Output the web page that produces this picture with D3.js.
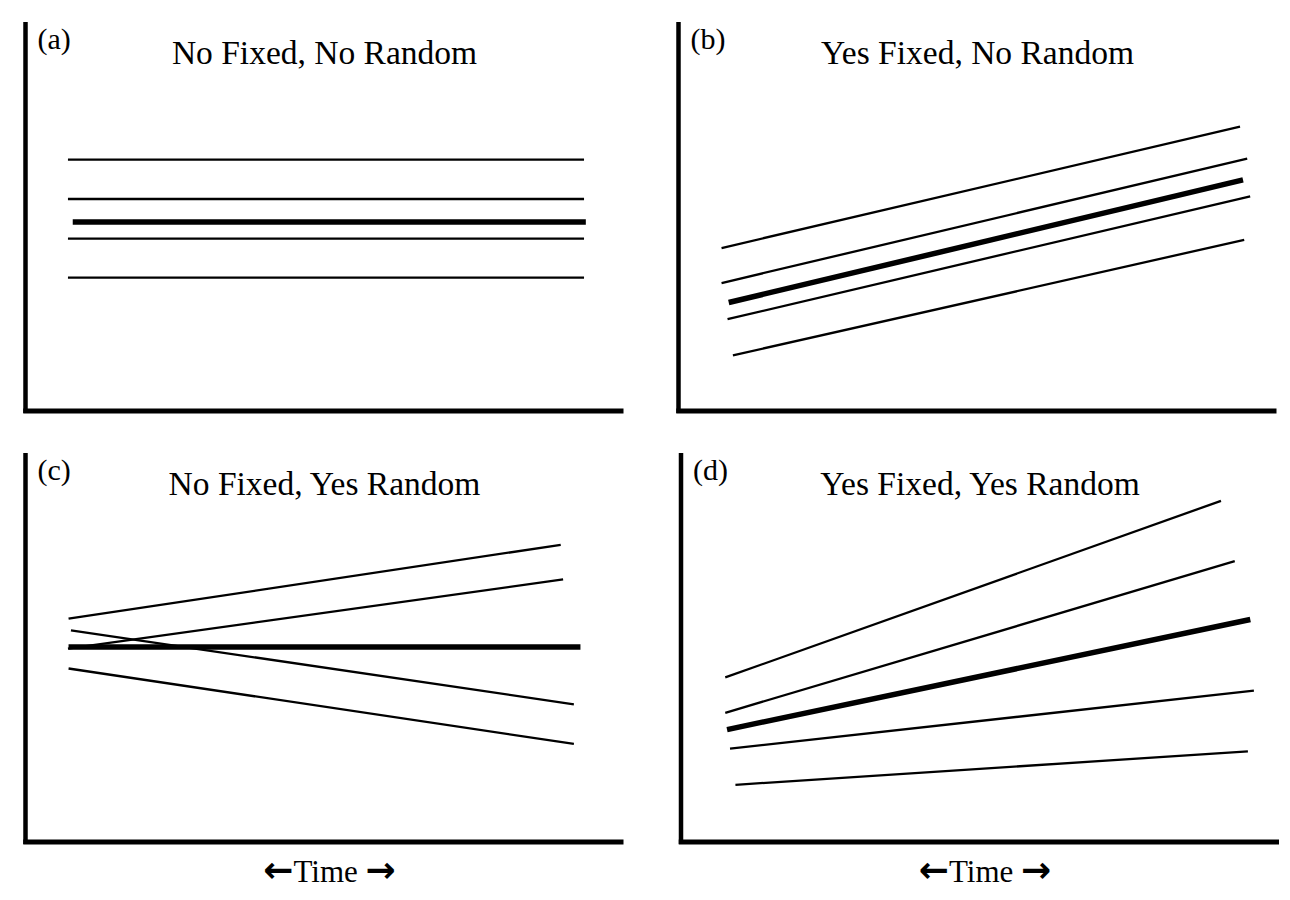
<!DOCTYPE html>
<html><head><meta charset="utf-8">
<script src="https://cdn.jsdelivr.net/npm/d3@7"></script>
<style>body{margin:0;background:#fff}svg{display:block}</style>
</head><body>
<svg id="chart" width="1290" height="900"></svg>
<script>
// Panel labels and titles
const panelLetters = ["(a)", "(b)", "(c)", "(d)"];
const panelTitles = ["No Fixed, No Random", "Yes Fixed, No Random", "No Fixed, Yes Random", "Yes Fixed, Yes Random"];
const xAxisLabel = ["\u2190", "Time", "\u2192"];

// Lines per panel: [x0, y0, x1, y1] in data units (time 0..100, response 0..100); last flag = thick (mean) line
const linesA = [
  [7.1, 64.6, 93.4, 64.6, 0],
  [7.1, 54.5, 93.4, 54.5, 0],
  [7.9, 48.6, 93.7, 48.6, 1],
  [7.1, 44.3, 93.4, 44.3, 0],
  [7.1, 34.3, 93.4, 34.3, 0]
];
const linesB = [
  [7.2, 41.9, 93.9, 73.1, 0],
  [7.2, 32.9, 95.1, 64.9, 0],
  [8.4, 27.9, 94.4, 59.4, 1],
  [8.2, 23.6, 95.6, 55.2, 0],
  [9.1, 14.3, 94.6, 44.0, 0]
];
const linesC = [
  [7.2, 57.4, 89.5, 76.4, 0],
  [7.1, 49.7, 89.9, 67.5, 0],
  [7.2, 50.1, 92.8, 50.1, 1],
  [7.6, 54.4, 91.7, 35.4, 0],
  [7.2, 44.6, 91.7, 25.2, 0]
];
const linesD = [
  [7.4, 42.3, 90.3, 87.7, 0],
  [7.4, 33.2, 92.6, 72.2, 0],
  [7.7, 28.9, 95.2, 57.2, 1],
  [8.2, 24.0, 95.8, 38.9, 0],
  [9.1, 14.7, 94.8, 23.3, 0]
];
const panelLines = [linesA, linesB, linesC, linesD];
const showTime = [false, false, true, true];

// Layout (axis corner of each panel)
const origins = [[25.5, 411], [678.5, 411], [25.5, 842], [681, 842]];
const W = 598, H = 389;

const svg = d3.select("#chart");
const x = d3.scaleLinear().domain([0, 100]).range([0, W]);
const y = d3.scaleLinear().domain([0, 100]).range([0, -H]);
const line = d3.line().x(d => x(d[0])).y(d => y(d[1]));
const font = "'Liberation Serif', 'Times New Roman', serif";

origins.forEach((o, i) => {
  const g = svg.append("g").attr("transform", `translate(${o[0]},${o[1]})`);
  // axes
  g.append("line").attr("x1", 0).attr("x2", 0).attr("y1", 2).attr("y2", -H)
    .attr("stroke", "#000").attr("stroke-width", 4.5);
  g.append("line").attr("x1", -2.25).attr("x2", W).attr("y1", 0).attr("y2", 0)
    .attr("stroke", "#000").attr("stroke-width", 5);
  // lines
  g.selectAll("path.l").data(panelLines[i]).join("path")
    .attr("class", "l")
    .attr("d", d => line([[d[0], d[1]], [d[2], d[3]]]))
    .attr("fill", "none").attr("stroke", "#000")
    .attr("stroke-width", d => d[4] ? 5.5 : 2.3)
    .attr("stroke-linecap", "butt");
  // letter
  g.append("text").attr("x", 12).attr("y", -H + 27)
    .attr("font-family", font).attr("font-size", 30).text(panelLetters[i]);
  // title
  g.append("text").attr("x", x(50)).attr("y", -H + 42)
    .attr("text-anchor", "middle").attr("font-family", font).attr("font-size", 33.5)
    .text(panelTitles[i]);
  if (showTime[i]) {
    const t = g.append("text").attr("x", x(50) + 5).attr("y", 40)
      .attr("text-anchor", "middle").attr("font-family", font).attr("font-size", 31);
    t.append("tspan").attr("font-family", "'DejaVu Sans'").attr("font-size", 36).attr("font-weight", "bold").text(xAxisLabel[0]);
    t.append("tspan").text(xAxisLabel[1] + " ");
    t.append("tspan").attr("font-family", "'DejaVu Sans'").attr("font-size", 36).attr("font-weight", "bold").text(xAxisLabel[2]);
  }
});
</script>
</body></html>
